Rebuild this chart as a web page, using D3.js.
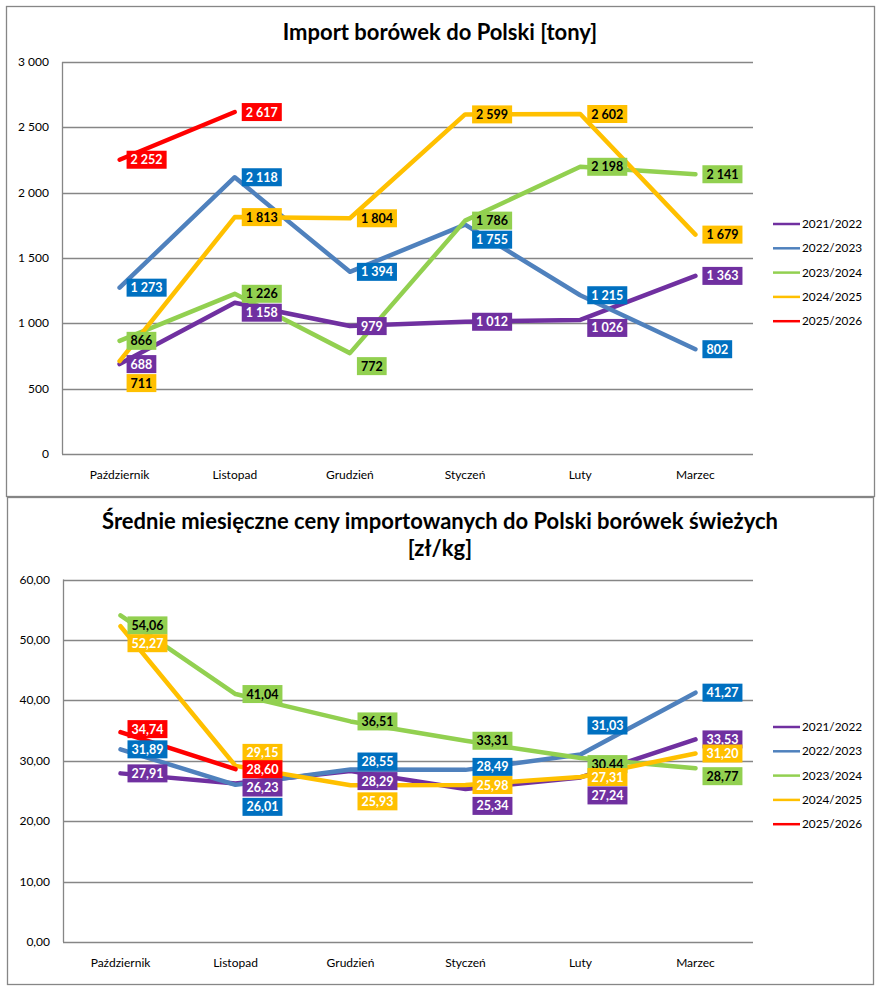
<!DOCTYPE html>
<html>
<head>
<meta charset="utf-8">
<script src="https://cdn.jsdelivr.net/npm/d3@7"></script>
<style>
body{margin:0;background:#fff;}
svg{display:block;font-family:Lato,"Open Sans",sans-serif;}
.tick{font-size:12px;fill:#000;}
.title{font-weight:bold;font-size:22px;fill:#000;}
.lab{font-weight:bold;font-size:12.5px;}
.leg{font-size:11.8px;fill:#000;}
</style>
</head>
<body>
<svg id="chart" width="880" height="990"></svg>
<script>
var months = ['Październik','Listopad','Grudzień','Styczeń','Luty','Marzec'];
var seasons = ['2021/2022','2022/2023','2023/2024','2024/2025','2025/2026'];
var colors = ['#7030A0','#4F81BD','#92D050','#FFC000','#FF0000'];
var labelFills = ['#7030A0','#0070C0','#92D050','#FFC000','#FF0000'];

// import, tonnes
var tons21 = [688,1158,979,1012,1026,1363];
var tons22 = [1273,2118,1394,1755,1215,802];
var tons23 = [866,1226,772,1786,2198,2141];
var tons24 = [711,1813,1804,2599,2602,1679];
var tons25 = [2252,2617];
var tonTicks = [0,500,1000,1500,2000,2500,3000];

// average price, zl/kg
var price21 = [27.91,26.23,28.29,25.34,27.24,33.53];
var price22 = [31.89,26.01,28.55,28.49,31.03,41.27];
var price23 = [54.06,41.04,36.51,33.31,30.44,28.77];
var price24 = [52.27,29.15,25.93,25.98,27.31,31.20];
var price25 = [34.74,28.60];
var priceTicks = [0,10,20,30,40,50,60];

var pl = d3.formatLocale({decimal:',', thousands:'\u00a0', grouping:[3], currency:['','']});

var svg = d3.select('#chart');

function panel(o){
  var g = svg.append('g');

  // frame
  g.append('rect')
    .attr('x',o.frame[0]+0.5).attr('y',o.frame[1]+0.5)
    .attr('width',o.frame[2]).attr('height',o.frame[3])
    .attr('fill','#fff').attr('stroke','#868686').attr('stroke-width',1.3);

  // title
  o.title.forEach(function(t,i){
    g.append('text').attr('class','title')
      .attr('x',440).attr('y',o.titleY + i*27)
      .attr('text-anchor','middle').text(t);
  });

  var x = d3.scalePoint().domain(months).range([o.left,o.right]).padding(0.5);
  var y = d3.scaleLinear().domain([0,o.ticks[o.ticks.length-1]]).range([o.bottom,o.top]);

  // grid
  g.selectAll('.grid').data(o.ticks).enter().append('line')
    .attr('x1',o.left).attr('x2',o.right)
    .attr('y1',function(d){return Math.round(y(d))+0.5;})
    .attr('y2',function(d){return Math.round(y(d))+0.5;})
    .attr('stroke','#868686').attr('stroke-width',1.3);
  g.append('line')
    .attr('x1',o.left+0.5).attr('x2',o.left+0.5)
    .attr('y1',o.top).attr('y2',o.bottom)
    .attr('stroke','#868686').attr('stroke-width',1.3);

  g.selectAll('.yt').data(o.ticks).enter().append('text').attr('class','tick')
    .attr('x',o.left-13).attr('y',function(d){return y(d)+4;})
    .attr('text-anchor','end').text(o.tickFmt);

  g.selectAll('.xt').data(months).enter().append('text').attr('class','tick')
    .attr('x',function(d){return x(d);}).attr('y',o.bottom+25)
    .attr('text-anchor','middle').text(function(d){return d;});

  var line = d3.line()
    .x(function(d,i){return x(months[i]);})
    .y(function(d){return y(d);});

  o.series.forEach(function(s,k){
    g.append('path').datum(s)
      .attr('d',line).attr('fill','none')
      .attr('stroke',colors[k]).attr('stroke-width',4.5)
      .attr('stroke-linecap','round').attr('stroke-linejoin','round');
  });

  // data labels
  o.series.forEach(function(s,k){
    s.forEach(function(v,i){
      var cx = x(months[i]) + 7;
      var cy = y(v) + (o.shift[k][i] || 0);
      var lg = g.append('g');
      var r = lg.append('rect').attr('fill',labelFills[k]);
      var t = lg.append('text').attr('class','lab')
        .attr('x',cx+4).attr('y',cy+4.5)
        .attr('fill',o.textCol[k]).text(o.labFmt(v));
      var w = t.node().getComputedTextLength();
      r.attr('x',cx).attr('y',cy-9).attr('width',w+8).attr('height',18);
    });
  });

  // legend
  var lgd = g.selectAll('.lgd').data(seasons).enter().append('g')
    .attr('transform',function(d,i){return 'translate(773,'+(o.legendY+i*24.3)+')';});
  lgd.append('line').attr('x1',0).attr('x2',27)
    .attr('stroke',function(d,i){return colors[i];}).attr('stroke-width',2.5);
  lgd.append('text').attr('class','leg').attr('x',29).attr('y',4)
    .text(function(d){return d;});
}

// manual label nudges (px), as placed in the original chart
panel({
  frame:[6,6,868,490],
  title:['Import borówek do Polski [tony]'], titleY:40,
  left:62, right:753, top:62, bottom:454,
  ticks:tonTicks, tickFmt:pl.format(',d'), labFmt:pl.format(',d'),
  series:[tons21,tons22,tons23,tons24,tons25],
  textCol:['#fff','#fff','#000','#000','#fff'],
  shift:[[0,10,0,0,8,0],[0,0,0,15,0,0],[0,0,13,0,0,0],[22,0,0,0,0,0],[0,0]],
  legendY:224
});

panel({
  frame:[7,497,866,487],
  title:['Średnie miesięczne ceny importowanych do Polski borówek świeżych','[zł/kg]'], titleY:529,
  left:63, right:753, top:579.5, bottom:942,
  ticks:priceTicks, tickFmt:pl.format(',.2f'), labFmt:pl.format(',.2f'),
  series:[price21,price22,price23,price24,price25],
  textCol:['#fff','#fff','#000','#fff','#fff'],
  shift:[[0,4,10,17,18,0],[0,22,-8,-3,-29,0],[10,0,0,0,6,8],[17,-13,16,0,0,0],[-3,0]],
  legendY:727
});
</script>
</body>
</html>
